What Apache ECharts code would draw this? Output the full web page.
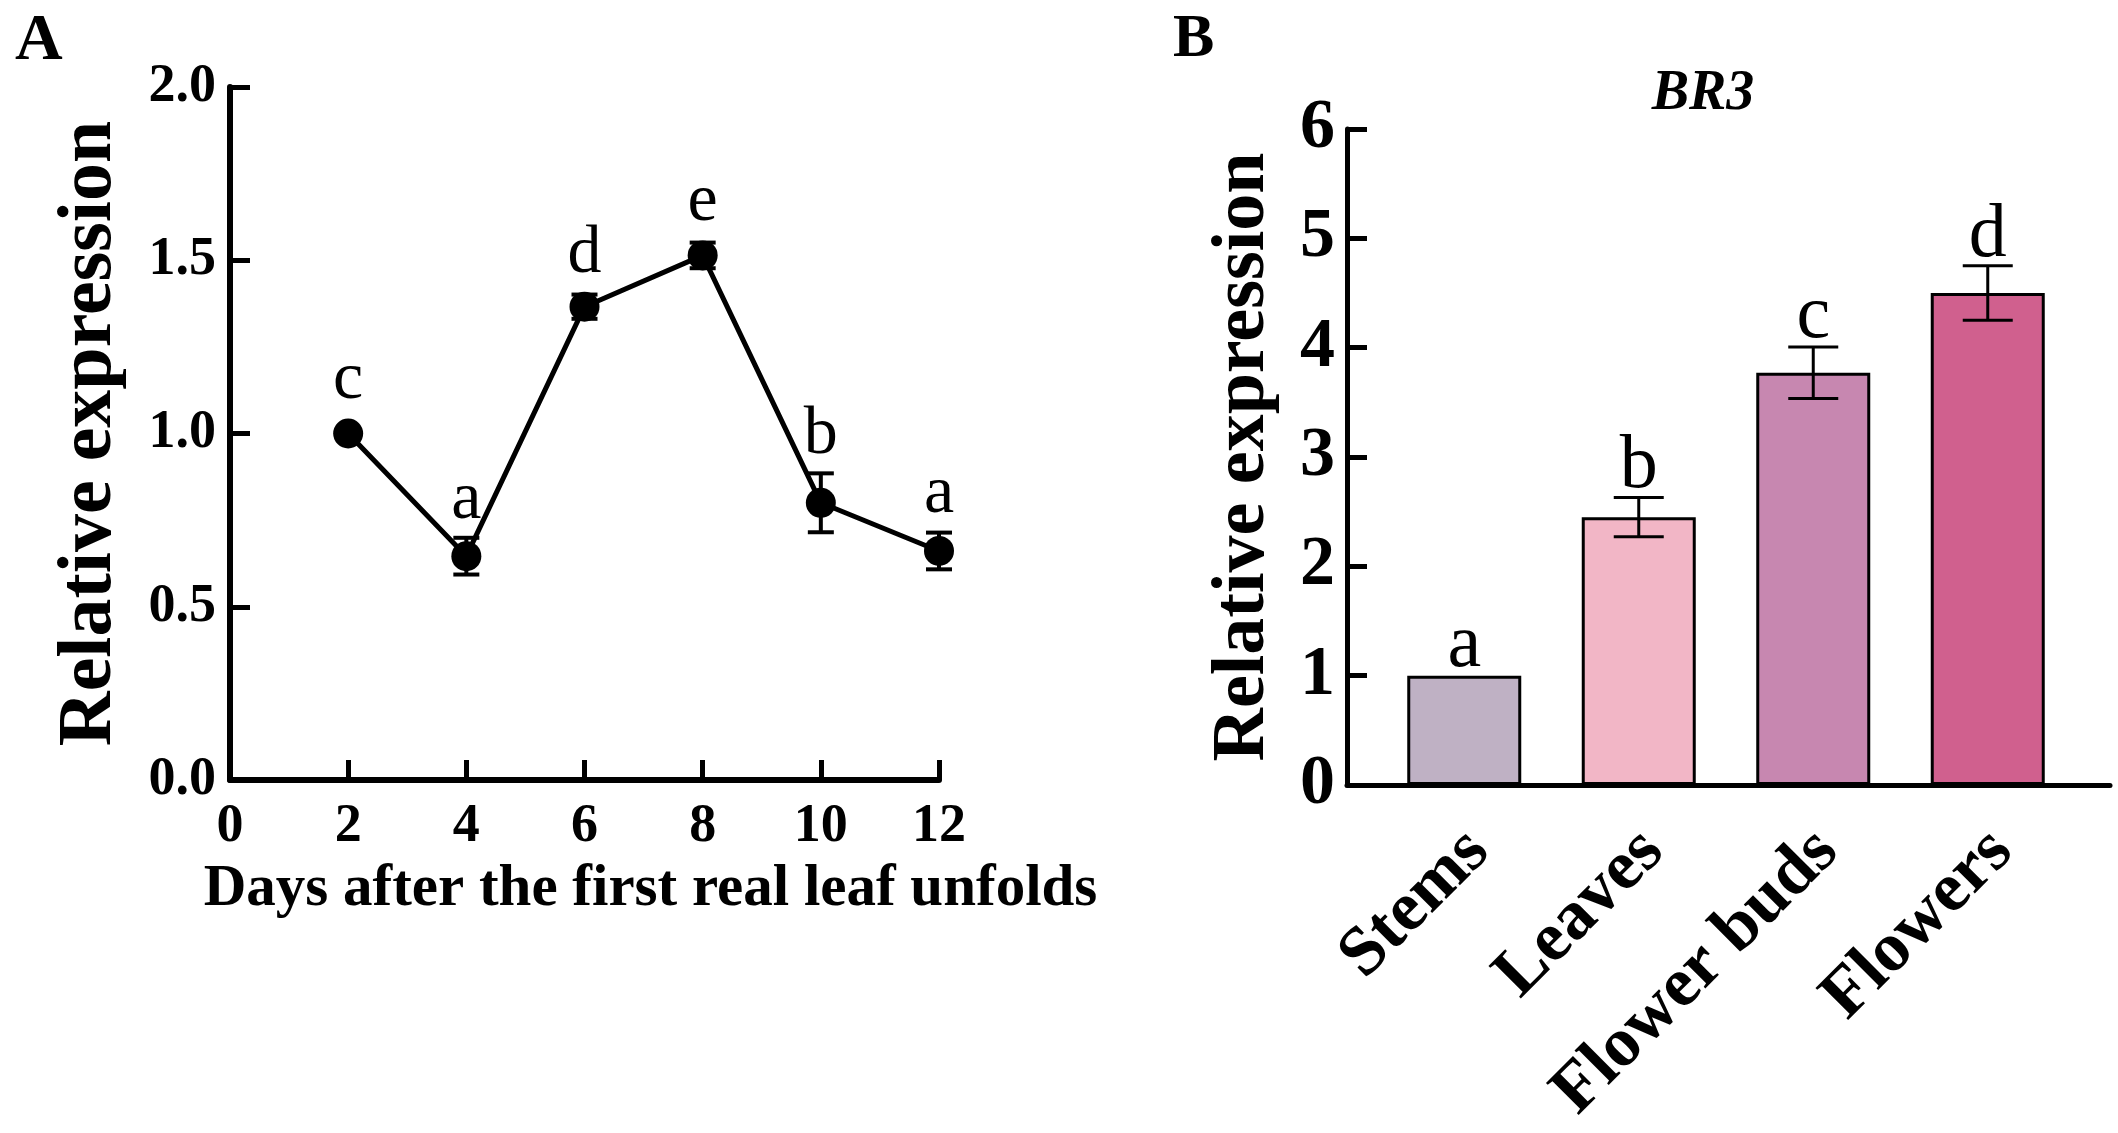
<!DOCTYPE html>
<html>
<head>
<meta charset="utf-8">
<script src="https://cdn.jsdelivr.net/npm/echarts@6/dist/echarts.min.js"></script>
<style>
  html, body { margin: 0; padding: 0; background: #fff; }
  #main { width: 2118px; height: 1133px; }
</style>
</head>
<body>
<div id="main"></div>
<script>
// panel A: time course
var days = [2, 4, 6, 8, 10, 12];
var dayMeans = [1.00, 0.646, 1.366, 1.514, 0.80, 0.661];
var dayErrs = [0, 0.053, 0.035, 0.037, 0.085, 0.053];
var dayLetters = ['c', 'a', 'd', 'e', 'b', 'a'];
var dayTicks = [0, 2, 4, 6, 8, 10, 12];

// panel B: tissues
var tissues = ['Stems', 'Leaves', 'Flower buds', 'Flowers'];
var tissueMeans = [1.00, 2.45, 3.77, 4.50];
var tissueErrs = [0, 0.18, 0.235, 0.25];
var tissueLetters = ['a', 'b', 'c', 'd'];
var tissueColors = ['#BFB1C4', '#F2B6C6', '#C787B0', '#D0608E'];

var FONT = "'Liberation Serif', 'Times New Roman', serif";

var myChart = echarts.init(document.getElementById('main'));

function errItem(letters, capW, lw, fs, gap, markR) {
    return function(params, api) {
        var x = api.value(0), v = api.value(1), e = api.value(2);
        var hi = api.coord([x, v + e]);
        var lo = api.coord([x, v - e]);
        var p = api.coord([x, v]);
        var kids = [];
        if (e > 0) {
            var ls = { stroke: '#000', lineWidth: lw };
            kids.push({ type: 'line', shape: { x1: hi[0], y1: hi[1], x2: lo[0], y2: lo[1] }, style: ls });
            kids.push({ type: 'line', shape: { x1: hi[0] - capW / 2, y1: hi[1], x2: hi[0] + capW / 2, y2: hi[1] }, style: ls });
            kids.push({ type: 'line', shape: { x1: lo[0] - capW / 2, y1: lo[1], x2: lo[0] + capW / 2, y2: lo[1] }, style: ls });
        }
        var top = Math.min(hi[1], p[1] - markR);
        kids.push({
            type: 'text',
            style: {
                text: letters[params.dataIndex], x: p[0], y: top - gap,
                align: 'center', verticalAlign: 'bottom',
                fontSize: fs, fontFamily: FONT, fill: '#000'
            }
        });
        return { type: 'group', children: kids };
    };
}

var lineData = [], errA = [];
for (var i = 0; i < days.length; i++) {
    lineData.push([days[i], dayMeans[i]]);
    errA.push([days[i], dayMeans[i], dayErrs[i]]);
}
var barData = [], errB = [];
for (var j = 0; j < tissues.length; j++) {
    barData.push({ value: tissueMeans[j], itemStyle: { color: tissueColors[j] } });
    errB.push([j, tissueMeans[j], tissueErrs[j]]);
}

var option = {
    backgroundColor: '#fff',
    animation: false,
    title: [
        { text: 'A', left: 10, top: 4, textStyle: { fontFamily: FONT, fontWeight: 'bold', fontSize: 66, color: '#000' } },
        { text: 'B', left: 1168, top: 4, textStyle: { fontFamily: FONT, fontWeight: 'bold', fontSize: 62, color: '#000' } },
        { text: 'BR3', left: 1698, top: 62, textAlign: 'center', textStyle: { fontFamily: FONT, fontWeight: 'bold', fontStyle: 'italic', fontSize: 56, color: '#000' } }
    ],
    grid: [
        { left: 230, top: 87, width: 709, height: 693 },
        { left: 1377, top: 129, width: 698, height: 656 },
        { left: 1347, top: 129, width: 763, height: 656 }
    ],
    xAxis: [
        {
            gridIndex: 0, type: 'value', min: dayTicks[0], max: dayTicks[dayTicks.length - 1], interval: 2,
            axisLine: { lineStyle: { color: '#000', width: 6 } },
            axisTick: { inside: true, length: 20, lineStyle: { color: '#000', width: 5 } },
            axisLabel: { margin: 20, color: '#000', fontFamily: FONT, fontWeight: 'bold', fontSize: 54 },
            splitLine: { show: false },
            name: 'Days after the first real leaf unfolds', nameLocation: 'middle', nameGap: 80,
            nameTextStyle: { color: '#000', fontFamily: FONT, fontWeight: 'bold', fontSize: 59, padding: [0, 0, 0, 132] }
        },
        {
            gridIndex: 1, type: 'category', data: tissues,
            axisLine: { show: false }, axisTick: { show: false },
            axisLabel: { rotate: 45, margin: 70, padding: [0, -20, 0, 0], color: '#000', fontFamily: FONT, fontWeight: 'bold', fontSize: 70 }
        },
        {
            gridIndex: 2, type: 'value', min: 0, max: 1,
            axisLine: { lineStyle: { color: '#000', width: 5 } },
            axisTick: { show: false }, axisLabel: { show: false }, splitLine: { show: false }
        }
    ],
    yAxis: [
        {
            gridIndex: 0, type: 'value', min: 0, max: 2, interval: 0.5,
            axisLine: { show: true, lineStyle: { color: '#000', width: 6 } },
            axisTick: { show: true, inside: true, length: 20, lineStyle: { color: '#000', width: 5 } },
            axisLabel: { margin: 14, color: '#000', fontFamily: FONT, fontWeight: 'bold', fontSize: 54,
                formatter: function(v) { return v.toFixed(1); } },
            splitLine: { show: false },
            name: 'Relative expression', nameLocation: 'middle', nameRotate: 90, nameGap: 102,
            nameTextStyle: { color: '#000', fontFamily: FONT, fontWeight: 'bold', fontSize: 76 }
        },
        {
            gridIndex: 1, type: 'value', min: 0, max: 6, interval: 1, offset: 30,
            axisLine: { show: true, lineStyle: { color: '#000', width: 5 } },
            axisTick: { show: true, inside: true, length: 20, lineStyle: { color: '#000', width: 5 } },
            axisLabel: { margin: 12, color: '#000', fontFamily: FONT, fontWeight: 'bold', fontSize: 70 },
            splitLine: { show: false },
            name: 'Relative expression', nameLocation: 'middle', nameRotate: 90, nameGap: 66,
            nameTextStyle: { color: '#000', fontFamily: FONT, fontWeight: 'bold', fontSize: 74 }
        },
        { gridIndex: 2, type: 'value', show: false, min: 0, max: 6 }
    ],
    series: [
        {
            type: 'line', xAxisIndex: 0, yAxisIndex: 0, data: lineData,
            symbol: 'circle', symbolSize: 30,
            itemStyle: { color: '#000' }, lineStyle: { color: '#000', width: 5 }, z: 3
        },
        {
            type: 'custom', xAxisIndex: 0, yAxisIndex: 0, data: errA,
            renderItem: errItem(dayLetters, 26, 4, 68, 4, 15), z: 4
        },
        {
            type: 'bar', xAxisIndex: 1, yAxisIndex: 1, data: barData, barWidth: 114,
            itemStyle: { borderColor: '#000', borderWidth: 3 }
        },
        {
            type: 'custom', xAxisIndex: 1, yAxisIndex: 1, data: errB,
            renderItem: errItem(tissueLetters, 50, 3, 76, -8, 0), z: 5
        }
    ]
};
myChart.setOption(option);
</script>
</body>
</html>
